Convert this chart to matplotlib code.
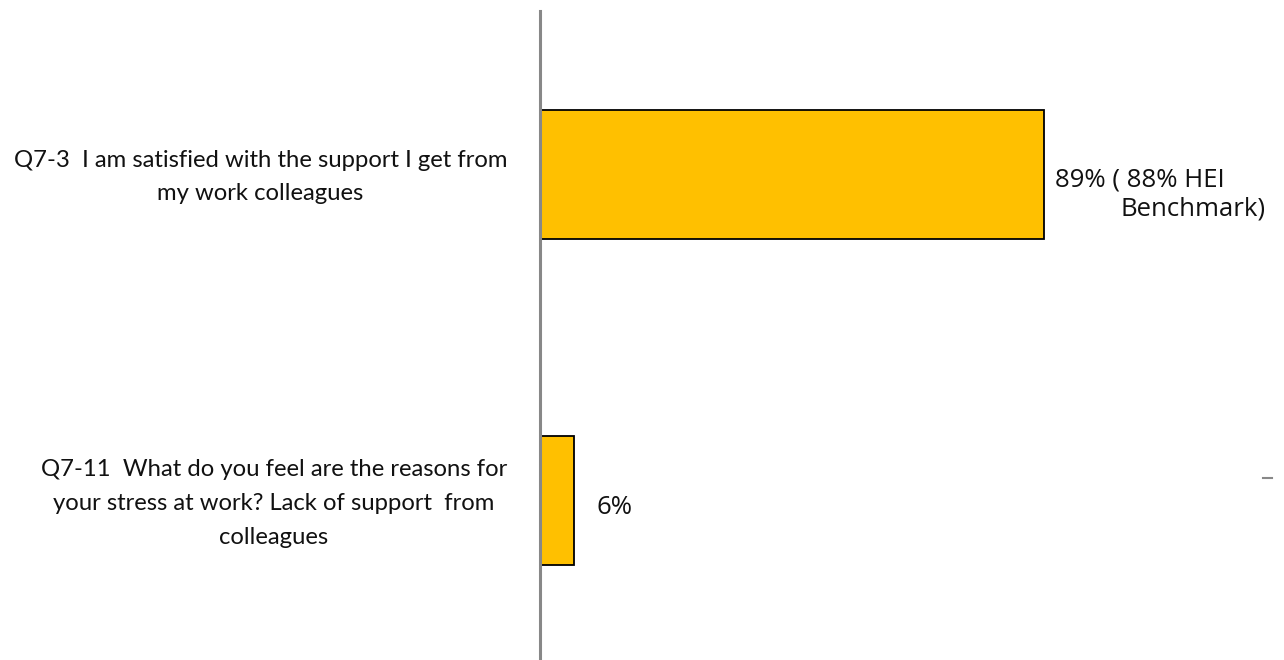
import matplotlib
matplotlib.use("Agg")
import matplotlib.pyplot as plt
from matplotlib.lines import Line2D

categories = [
    "Q7-3  I am satisfied with the support I get from\nmy work colleagues",
    "Q7-11  What do you feel are the reasons for\nyour stress at work? Lack of support  from\ncolleagues",
]
values = [0.89, 0.06]
benchmarks = [0.88, None]

BAR_COLOR = "#FFC000"
AXIS_COLOR = "#888888"

fig = plt.figure(figsize=(12.84, 6.6), dpi=100)
ax = fig.add_axes([540 / 1284, 0.0, 736 / 1284, 1 - 11 / 660])

ypos = list(range(len(categories)))
ax.barh(ypos, values, height=0.395, color=BAR_COLOR, edgecolor="black", linewidth=1.3, zorder=2)

ax.set_xlim(0, 1.3)
ax.set_ylim(1.488, -0.5)

for side in ["top", "right", "bottom"]:
    ax.spines[side].set_visible(False)
ax.spines["left"].set_color(AXIS_COLOR)
ax.spines["left"].set_linewidth(2.2)
ax.set_xticks([])
ax.set_yticks([])

label_font = "Lato"
# Category labels, right-aligned block with centered lines
for y, text in zip(ypos, categories):
    fig_x = 507 / 1284
    ax.annotate(text, xy=(0, y), xycoords=("axes fraction", "data"),
                xytext=(fig_x, -2), textcoords=("figure fraction", "offset points"),
                ha="right", va="center", multialignment="center",
                fontsize=17.2, family=label_font, linespacing=1.74, color="#111111")

# Value labels
val_font = dict(fontsize=18.5, family="Open Sans", color="#111111")
for y, v, b in zip(ypos, values, benchmarks):
    if b is None:
        ax.annotate(f"{v:.0%}", xy=(v, y), xytext=(16, -5), textcoords="offset points",
                    ha="left", va="center", **val_font)
    else:
        ax.annotate(f"{v:.0%} ( {b:.0%} HEI", xy=(v, y), xytext=(8, -4), textcoords="offset points",
                    ha="left", va="center", **val_font)
        ax.annotate("Benchmark)", xy=(v, y), xytext=(160, -25), textcoords="offset points",
                    ha="right", va="center", **val_font)

# small stray tick on the right
fig.add_artist(Line2D([1263 / 1284, 1272 / 1284], [1 - 478 / 660, 1 - 478 / 660],
                      color=AXIS_COLOR, linewidth=1.5))

fig.savefig("out.png", dpi=100, facecolor="white")
